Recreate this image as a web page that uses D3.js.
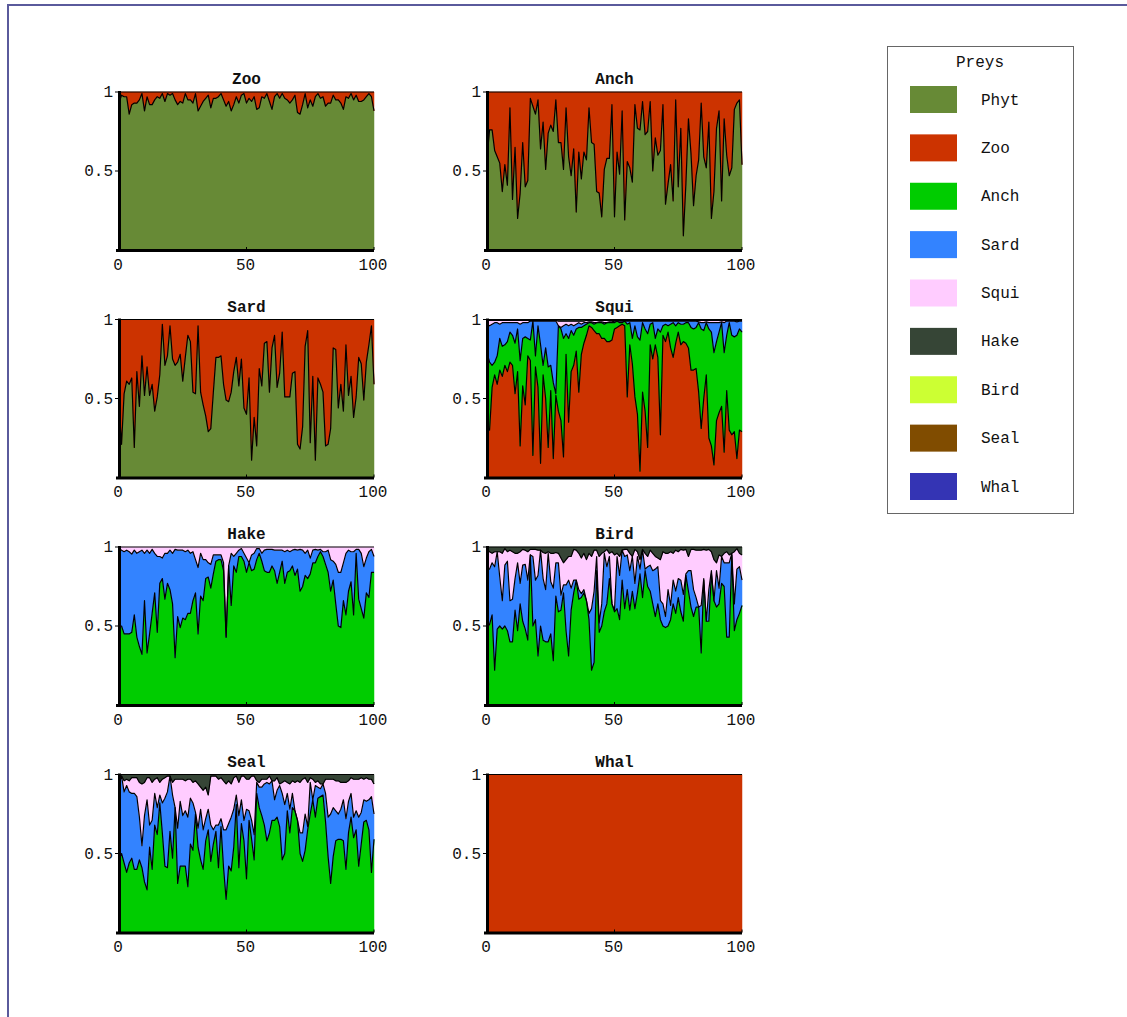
<!DOCTYPE html>
<html>
<head>
<meta charset="utf-8">
<script src="https://cdn.jsdelivr.net/npm/d3@7"></script>
<style>
  html, body { margin: 0; padding: 0; background: #fff; }
  svg { display: block; }
  text { font-family: "Liberation Mono", "Courier New", monospace; fill: #111; }
</style>
</head>
<body>
<svg id="chart" width="1127" height="1017"></svg>
<script>
// ---------------- data ----------------
const steps = d3.range(0, 101);            // time steps 0..100
const preys = ["Phyt","Zoo","Anch","Sard","Squi","Hake","Bird","Seal","Whal"];
const preyColors = ["#678a36","#cc3300","#00cc00","#3383ff","#ffccff","#364536","#ccff33","#804c00","#3434b4"];
const predators = ["Zoo","Anch","Sard","Squi","Hake","Bird","Seal","Whal"];
const xTicks = [0, 50, 100];
const xTickLabels = ["0", "50", "100"];
const yTicks = [0.5, 1];
const yTickLabels = ["0.5", "1"];
const legendTitle = "Preys";

// cumulative diet share boundaries (bottom layer up to the named prey)
const zooUpToPhyt = [0.93,0.98,0.97,0.97,0.86,0.92,0.93,0.93,0.95,0.99,
  0.88,0.97,0.92,0.92,0.95,0.97,0.96,0.99,0.94,0.99,
  0.98,0.99,0.95,0.92,0.94,0.93,0.99,0.95,0.95,0.93,
  0.99,0.88,0.91,0.94,0.96,0.98,0.90,0.96,0.96,0.97,
  0.99,0.95,0.91,0.94,0.88,0.92,0.97,0.93,0.98,0.99,
  0.93,0.96,0.94,0.97,0.89,0.90,0.97,0.96,0.99,0.94,
  0.89,0.97,0.99,0.96,0.99,0.96,0.95,0.93,0.95,0.98,
  0.87,0.86,0.92,0.99,0.90,0.95,0.91,0.97,0.99,0.96,
  0.97,0.91,0.93,0.93,0.98,0.95,0.95,0.93,0.89,0.97,
  0.96,0.99,0.95,0.98,0.94,0.94,0.95,0.97,0.99,0.97,0.88];

const anchUpToPhyt = [0.58,0.76,0.76,0.63,0.59,0.55,0.37,0.54,0.41,0.90,
  0.32,0.65,0.20,0.36,0.68,0.40,0.44,0.96,0.91,0.86,
  0.95,0.64,0.81,0.51,0.74,0.79,0.75,0.95,0.68,0.68,
  0.51,0.90,0.59,0.47,0.64,0.24,0.62,0.45,0.62,0.57,
  0.90,0.68,0.67,0.37,0.36,0.21,0.51,0.58,0.58,0.92,
  0.21,0.62,0.48,0.88,0.19,0.56,0.52,0.43,0.92,0.77,
  0.76,0.94,0.73,0.75,0.94,0.50,0.71,0.60,0.63,0.92,
  0.29,0.42,0.54,0.31,0.95,0.40,0.77,0.09,0.42,0.83,
  0.61,0.28,0.47,0.57,0.93,0.59,0.52,0.81,0.20,0.37,
  0.77,0.88,0.31,0.83,0.60,0.47,0.52,0.89,0.93,0.95,0.54];

const sardUpToPhyt = [0.46,0.21,0.53,0.61,0.59,0.63,0.19,0.67,0.45,0.77,
  0.52,0.70,0.52,0.59,0.42,0.51,0.65,0.97,0.71,0.77,
  0.96,0.75,0.71,0.73,0.78,0.61,0.76,0.90,0.86,0.54,
  0.53,0.96,0.54,0.46,0.39,0.29,0.31,0.54,0.76,0.76,
  0.77,0.59,0.49,0.48,0.54,0.67,0.76,0.58,0.75,0.44,
  0.40,0.63,0.11,0.38,0.20,0.69,0.58,0.85,0.86,0.54,
  0.82,0.90,0.57,0.66,0.92,0.51,0.51,0.51,0.66,0.67,
  0.21,0.18,0.32,0.83,0.93,0.22,0.64,0.11,0.63,0.59,
  0.54,0.20,0.21,0.31,0.82,0.81,0.44,0.59,0.42,0.84,
  0.52,0.64,0.38,0.51,0.76,0.72,0.49,0.73,0.84,0.96,0.59];

const squiUpToZoo = [0.32,0.30,0.57,0.65,0.59,0.68,0.64,0.71,0.67,0.73,
  0.71,0.53,0.67,0.20,0.58,0.46,0.77,0.74,0.14,0.70,
  0.57,0.09,0.65,0.50,0.19,0.55,0.12,0.52,0.42,0.36,
  0.13,0.78,0.35,0.67,0.71,0.80,0.54,0.78,0.85,0.90,
  0.96,0.95,0.93,0.91,0.91,0.88,0.88,0.86,0.86,0.87,
  0.94,0.95,0.96,0.97,0.96,0.51,0.84,0.72,0.51,0.40,
  0.04,0.54,0.42,0.19,0.84,0.75,0.84,0.76,0.27,0.90,
  0.86,0.92,0.82,0.76,0.85,0.92,0.84,0.86,0.85,0.82,
  0.68,0.68,0.69,0.54,0.31,0.50,0.65,0.25,0.20,0.08,
  0.36,0.41,0.45,0.16,0.55,0.30,0.27,0.29,0.12,0.30,0.29];
const squiUpToAnch = [0.79,0.73,0.71,0.73,0.77,0.88,0.83,0.84,0.86,0.92,
  0.90,0.85,0.94,0.74,0.88,0.89,0.88,0.87,0.99,0.77,
  0.96,0.84,0.71,0.82,0.70,0.71,0.60,0.53,0.96,0.94,
  0.88,0.91,0.88,0.93,0.90,0.94,0.95,0.95,0.96,0.97,
  0.98,0.98,0.97,0.98,0.98,0.98,0.97,0.98,0.98,0.98,
  0.98,0.99,0.98,0.98,0.99,0.97,0.98,0.88,0.96,0.89,
  0.87,0.98,0.94,0.91,0.97,0.98,0.88,0.94,0.92,0.96,
  0.97,0.96,0.97,0.98,0.96,0.98,0.97,0.97,0.98,0.98,
  0.95,0.94,0.95,0.98,0.94,0.93,0.98,0.94,0.92,0.79,
  0.86,0.92,0.98,0.79,0.90,0.98,0.90,0.89,0.90,0.94,0.92];
const squiUpToSard = [0.97,0.96,0.97,0.98,0.98,0.97,0.98,0.98,0.98,0.98,
  0.98,0.98,0.98,0.97,0.98,0.98,0.98,0.99,0.99,0.99,
  0.99,0.99,0.99,0.99,0.99,0.99,0.99,0.99,0.96,0.95,
  0.96,0.97,0.96,0.97,0.96,0.97,0.98,0.97,0.98,0.98,
  0.985,0.985,0.98,0.98,0.985,0.985,0.98,0.98,0.985,0.985,
  0.99,0.99,0.99,0.99,0.99,0.99,0.99,0.99,0.99,0.99,
  0.99,0.99,0.99,0.99,0.99,0.99,0.99,0.99,0.99,0.99,
  0.99,0.99,0.99,0.99,0.99,0.99,0.99,0.99,0.99,0.99,
  0.99,0.99,0.99,0.985,0.98,0.98,0.985,0.98,0.98,0.98,
  0.98,0.98,0.985,0.98,0.99,0.99,0.99,0.99,0.985,0.99,0.99];
const squiUpToSqui = [0.995,0.995,0.995,0.995,0.995,0.995,0.995,0.995,0.995,0.995,
  0.995,0.995,0.995,0.995,0.995,0.995,0.995,0.995,0.995,0.995,
  0.995,0.995,0.995,0.995,0.995,0.995,0.995,0.995,0.99,0.99,
  0.99,0.99,0.99,0.99,0.99,0.99,0.99,0.99,0.99,0.995,
  0.995,0.995,0.995,0.995,0.995,0.995,0.995,0.995,0.995,0.995,
  0.995,0.995,0.995,0.995,0.995,0.995,0.995,0.995,0.995,0.995,
  0.995,0.995,0.995,0.995,0.995,0.995,0.995,0.995,0.995,0.995,
  0.995,0.995,0.995,0.995,0.995,0.995,0.995,0.995,0.995,0.995,
  0.995,0.995,0.995,0.995,0.995,0.995,0.995,0.995,0.995,0.995,
  0.995,0.995,0.995,0.995,0.995,0.995,0.995,0.995,0.995,0.995,0.995];

const hakeUpToAnch = [0.50,0.50,0.45,0.45,0.45,0.46,0.57,0.43,0.37,0.32,
  0.66,0.33,0.45,0.58,0.71,0.46,0.77,0.80,0.67,0.77,
  0.73,0.64,0.30,0.56,0.49,0.55,0.54,0.58,0.58,0.66,
  0.71,0.45,0.69,0.66,0.80,0.81,0.74,0.83,0.91,0.92,
  0.92,0.85,0.43,0.88,0.63,0.88,0.84,0.94,0.94,0.91,
  0.84,0.90,0.85,0.86,0.92,0.96,0.91,0.85,0.84,0.84,
  0.88,0.85,0.77,0.84,0.91,0.77,0.84,0.85,0.88,0.82,
  0.86,0.72,0.75,0.82,0.80,0.83,0.90,0.90,0.94,0.97,
  0.94,0.89,0.84,0.72,0.79,0.64,0.50,0.49,0.66,0.57,
  0.72,0.78,0.57,0.96,0.67,0.61,0.55,0.71,0.68,0.84,0.84];
const hakeUpToSard = [0.985,0.98,0.97,0.98,0.97,0.955,0.98,0.96,0.97,0.98,
  0.96,0.98,0.96,0.985,0.96,0.94,0.94,0.93,0.96,0.96,
  0.98,0.96,0.985,0.98,0.98,0.98,0.97,0.98,0.96,0.97,
  0.92,0.87,0.96,0.92,0.92,0.90,0.89,0.95,0.95,0.95,
  0.95,0.90,0.43,0.88,0.96,0.94,0.96,0.98,0.99,0.96,
  0.93,0.90,0.95,0.96,0.99,0.99,0.96,0.98,0.985,0.985,
  0.985,0.98,0.98,0.98,0.98,0.97,0.98,0.97,0.98,0.985,
  0.98,0.985,0.98,0.96,0.98,0.93,0.98,0.985,0.98,0.985,
  0.97,0.97,0.98,0.92,0.91,0.89,0.84,0.84,0.90,0.96,
  0.98,0.97,0.97,0.985,0.985,0.96,0.875,0.93,0.97,0.985,0.94];

const birdUpToAnch = [0.49,0.51,0.57,0.22,0.48,0.50,0.48,0.50,0.47,0.40,
  0.40,0.60,0.47,0.64,0.53,0.48,0.41,0.95,0.50,0.54,
  0.31,0.50,0.41,0.40,0.40,0.45,0.28,0.69,0.59,0.60,
  0.71,0.47,0.31,0.60,0.71,0.79,0.67,0.68,0.71,0.66,
  0.54,0.22,0.27,0.85,0.46,0.50,0.59,0.64,0.80,0.64,
  0.59,0.61,0.54,0.79,0.61,0.73,0.60,0.72,0.61,0.71,
  0.83,0.68,0.85,0.75,0.72,0.64,0.56,0.64,0.54,0.50,
  0.49,0.50,0.54,0.64,0.58,0.68,0.59,0.53,0.82,0.72,
  0.62,0.56,0.62,0.62,0.33,0.79,0.53,0.53,0.83,0.66,
  0.62,0.64,0.77,0.75,0.43,0.43,0.95,0.47,0.54,0.58,0.63];
const birdUpToSard = [0.86,0.86,0.90,0.875,0.97,0.81,0.66,0.885,0.91,0.66,
  0.67,0.80,0.90,0.77,0.885,0.89,0.79,0.95,0.94,0.79,
  0.82,0.98,0.80,0.73,0.96,0.78,0.74,0.90,0.90,0.695,
  0.76,0.76,0.79,0.74,0.79,0.75,0.73,0.705,0.73,0.66,
  0.58,0.61,0.72,0.94,0.52,0.64,0.96,0.875,0.94,0.61,
  0.60,0.94,0.82,0.98,0.94,0.95,0.85,0.94,0.77,0.94,
  0.86,0.98,0.86,0.875,0.885,0.85,0.86,0.875,0.66,0.64,
  0.56,0.73,0.63,0.79,0.72,0.80,0.79,0.70,0.83,0.85,
  0.85,0.73,0.68,0.54,0.63,0.80,0.53,0.73,0.85,0.64,
  0.85,0.74,0.94,0.90,0.90,0.90,0.96,0.64,0.86,0.875,0.79];
const birdUpToSqui = [0.985,0.97,0.96,0.97,0.97,0.97,0.96,0.99,0.97,0.98,
  0.97,0.96,0.96,0.97,0.985,0.98,0.97,0.985,0.985,0.985,
  0.98,0.98,0.965,0.96,0.97,0.96,0.96,0.965,0.96,0.93,
  0.90,0.92,0.94,0.94,0.985,0.98,0.96,0.93,0.96,0.92,
  0.96,0.94,0.98,0.98,0.94,0.96,0.97,0.985,0.96,0.97,
  0.95,0.96,0.94,0.98,0.985,0.985,0.96,0.93,0.985,0.97,
  0.92,0.985,0.96,0.94,0.98,0.96,0.94,0.93,0.92,0.97,
  0.96,0.96,0.97,0.96,0.98,0.97,0.985,0.98,0.985,0.94,
  0.985,0.985,0.98,0.98,0.98,0.985,0.98,0.985,0.97,0.92,
  0.90,0.95,0.93,0.96,0.97,0.95,0.96,0.97,0.99,0.96,0.95];

const sealUpToAnch = [0.46,0.50,0.44,0.38,0.44,0.47,0.40,0.40,0.46,0.41,
  0.32,0.27,0.54,0.40,0.68,0.62,0.82,0.63,0.42,0.41,
  0.64,0.47,0.79,0.31,0.42,0.42,0.42,0.29,0.56,0.52,
  0.75,0.54,0.46,0.40,0.58,0.65,0.45,0.56,0.64,0.41,
  0.67,0.41,0.21,0.42,0.39,0.54,0.81,0.41,0.69,0.58,
  0.34,0.71,0.59,0.46,0.88,0.79,0.74,0.68,0.58,0.63,
  0.71,0.71,0.73,0.67,0.46,0.50,0.77,0.63,0.79,0.77,
  0.71,0.50,0.45,0.52,0.65,0.75,0.84,0.73,0.85,0.86,
  0.87,0.70,0.48,0.31,0.48,0.58,0.59,0.59,0.58,0.40,
  0.63,0.73,0.60,0.65,0.42,0.56,0.70,0.71,0.65,0.38,0.59];
const sealUpToSard = [0.94,0.99,0.89,0.93,0.89,0.88,0.88,0.86,0.73,0.55,
  0.74,0.84,0.68,0.71,0.88,0.79,0.87,0.82,0.85,0.89,
  0.99,0.87,0.78,0.66,0.83,0.74,0.77,0.73,0.85,0.82,
  0.76,0.66,0.78,0.65,0.72,0.78,0.68,0.65,0.68,0.68,
  0.72,0.65,0.65,0.69,0.73,0.78,0.87,0.74,0.84,0.71,
  0.78,0.77,0.71,0.62,0.95,0.92,0.92,0.94,0.95,0.94,
  0.96,0.84,0.90,0.93,0.88,0.81,0.88,0.78,0.88,0.69,
  0.69,0.63,0.63,0.75,0.67,0.95,0.76,0.93,0.92,0.91,
  0.94,0.88,0.73,0.75,0.79,0.77,0.75,0.78,0.84,0.72,
  0.83,0.88,0.73,0.77,0.73,0.76,0.84,0.83,0.84,0.86,0.75];
const sealUpToSqui = [0.97,0.99,0.96,0.97,0.96,0.98,0.98,0.98,0.95,0.94,
  0.95,0.98,0.98,0.95,0.97,0.98,0.95,0.97,0.98,0.99,
  0.99,0.95,0.97,0.97,0.97,0.97,0.96,0.97,0.97,0.95,
  0.96,0.94,0.92,0.90,0.92,0.87,0.99,0.99,0.99,0.97,
  0.98,0.96,0.94,0.96,0.94,0.98,0.99,0.95,0.99,0.99,
  0.97,0.97,0.99,0.99,0.96,0.95,0.97,0.97,0.97,0.99,
  0.95,0.96,0.98,0.94,0.95,0.96,0.95,0.94,0.96,0.95,
  0.96,0.95,0.97,0.98,0.95,0.98,0.97,0.95,0.96,0.94,
  0.94,0.97,0.97,0.97,0.97,0.96,0.96,0.95,0.95,0.95,
  0.96,0.98,0.97,0.97,0.97,0.98,0.97,0.98,0.97,0.97,0.94];

// each predator's diet: [prey, cumulative boundary]; null = fills up to 1
const diets = {
  Zoo:  [["Phyt", zooUpToPhyt], ["Zoo", null]],
  Anch: [["Phyt", anchUpToPhyt], ["Zoo", null]],
  Sard: [["Phyt", sardUpToPhyt], ["Zoo", null]],
  Squi: [["Zoo", squiUpToZoo], ["Anch", squiUpToAnch], ["Sard", squiUpToSard], ["Squi", squiUpToSqui], ["Hake", null]],
  Hake: [["Anch", hakeUpToAnch], ["Sard", hakeUpToSard], ["Squi", null]],
  Bird: [["Anch", birdUpToAnch], ["Sard", birdUpToSard], ["Squi", birdUpToSqui], ["Hake", null]],
  Seal: [["Anch", sealUpToAnch], ["Sard", sealUpToSard], ["Squi", sealUpToSqui], ["Hake", null]],
  Whal: [["Zoo", null]]
};

// ---------------- layout ----------------
const svg = d3.select("#chart");
const colX = [119, 487];
const rowY = [92, 319.5, 547, 774.5];
const PW = 255, PH = 158;
const color = d3.scaleOrdinal().domain(preys).range(preyColors);

// outer frame
svg.append("rect").attr("x", 8).attr("y", 5).attr("width", 1300).attr("height", 1200)
  .attr("fill", "none").attr("stroke", "#5a5a9c").attr("stroke-width", 2);

predators.forEach((pred, k) => {
  const ox = colX[k % 2], oy = rowY[Math.floor(k / 2)];
  const g = svg.append("g").attr("transform", `translate(${ox},${oy})`);
  const x = d3.scaleLinear().domain([0, 100]).range([0, PW]);
  const y = d3.scaleLinear().domain([0, 1]).range([PH, 0]);

  const diet = diets[pred];
  const keys = diet.map(d => d[0]);
  const rows = steps.map(t => {
    const row = { t };
    let prev = 0;
    diet.forEach(([p, arr]) => {
      const top = arr ? Math.max(prev, Math.min(1, arr[t])) : 1;
      row[p] = top - prev;
      prev = top;
    });
    return row;
  });
  const series = d3.stack().keys(keys)(rows);

  const area = d3.area().x(d => x(d.data.t)).y0(d => y(d[0])).y1(d => y(d[1]));
  const line = d3.line().x(d => x(d.data.t)).y(d => y(d[1]));

  g.selectAll("path.layer").data(series).join("path")
    .attr("class", "layer")
    .attr("d", area)
    .attr("fill", s => color(s.key))
    .attr("stroke", s => color(s.key)).attr("stroke-width", 0.5);
  g.selectAll("path.edge").data(series).join("path")
    .attr("class", "edge")
    .attr("d", line)
    .attr("fill", "none").attr("stroke", "#000").attr("stroke-width", 1.2)
    .attr("stroke-linejoin", "round");

  // axes
  g.append("line").attr("x1", 0.5).attr("x2", 0.5).attr("y1", y(1) - 1).attr("y2", PH + 1.5)
    .attr("stroke", "#000").attr("stroke-width", 3);
  g.append("line").attr("x1", -3).attr("x2", PW).attr("y1", PH + 0.5).attr("y2", PH + 0.5)
    .attr("stroke", "#000").attr("stroke-width", 3);
  yTicks.forEach((v, i) => {
    g.append("line").attr("x1", -4).attr("x2", 0).attr("y1", y(v)).attr("y2", y(v))
      .attr("stroke", "#000").attr("stroke-width", 1);
    g.append("text").attr("x", -6).attr("y", y(v) + 5).attr("text-anchor", "end")
      .attr("font-size", 16).text(yTickLabels[i]);
  });
  xTicks.forEach((v, i) => {
    g.append("line").attr("x1", x(v)).attr("x2", x(v)).attr("y1", PH - 3).attr("y2", PH)
      .attr("stroke", "#000").attr("stroke-width", 1);
    g.append("text").attr("x", x(v) - 1).attr("y", PH + 19.5).attr("text-anchor", "middle")
      .attr("font-size", 16).text(xTickLabels[i]);
  });
  g.append("text").attr("x", PW / 2).attr("y", -8).attr("text-anchor", "middle")
    .attr("font-size", 16).attr("font-weight", "bold").text(pred);
});

// legend
const lg = svg.append("g");
lg.append("rect").attr("x", 887.5).attr("y", 46.5).attr("width", 186).attr("height", 467)
  .attr("fill", "#fff").attr("stroke", "#666").attr("stroke-width", 1);
lg.append("text").attr("x", 980).attr("y", 67).attr("text-anchor", "middle")
  .attr("font-size", 16).text(legendTitle);
const ly = d3.scalePoint().domain(preys).range([86, 473]);
preys.forEach(p => {
  lg.append("rect").attr("x", 910).attr("y", ly(p)).attr("width", 47).attr("height", 27)
    .attr("fill", color(p));
  lg.append("text").attr("x", 981).attr("y", ly(p) + 18.5).attr("font-size", 16).text(p);
});
</script>
</body>
</html>
